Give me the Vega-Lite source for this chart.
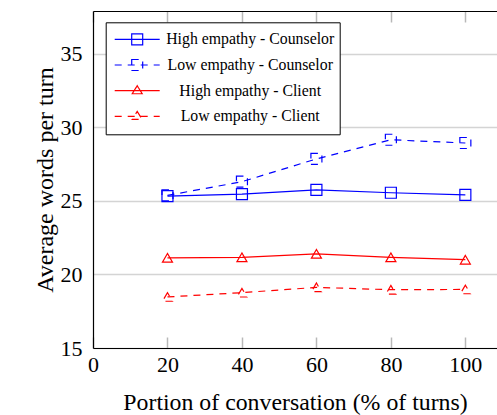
{
  "$schema": "https://vega.github.io/schema/vega-lite/v6.json",
  "width": 404,
  "height": 337,
  "autosize": {"type": "none"},
  "padding": {"left": 93, "top": 11, "right": 0, "bottom": 67},
  "background": "white",
  "config": {
    "view": {"stroke": null},
    "font": "Liberation Serif",
    "axis": {"labelFont": "Liberation Serif", "titleFont": "Liberation Serif", "titleFontWeight": "normal", "labelColor": "black", "titleColor": "black"},
    "legend": {"labelFont": "Liberation Serif"}
  },
  "data": {
    "values": [
      {"x": 20, "y": 25.32, "series": "High empathy - Counselor"},
      {"x": 40, "y": 25.46, "series": "High empathy - Counselor"},
      {"x": 60, "y": 25.75, "series": "High empathy - Counselor"},
      {"x": 80, "y": 25.55, "series": "High empathy - Counselor"},
      {"x": 100, "y": 25.41, "series": "High empathy - Counselor"},
      {"x": 20, "y": 25.37, "series": "Low empathy - Counselor"},
      {"x": 40, "y": 26.3, "series": "Low empathy - Counselor"},
      {"x": 60, "y": 27.85, "series": "Low empathy - Counselor"},
      {"x": 80, "y": 29.15, "series": "Low empathy - Counselor"},
      {"x": 100, "y": 28.93, "series": "Low empathy - Counselor"},
      {"x": 20, "y": 21.13, "series": "High empathy - Client"},
      {"x": 40, "y": 21.16, "series": "High empathy - Client"},
      {"x": 60, "y": 21.4, "series": "High empathy - Client"},
      {"x": 80, "y": 21.16, "series": "High empathy - Client"},
      {"x": 100, "y": 21.0, "series": "High empathy - Client"},
      {"x": 20, "y": 18.47, "series": "Low empathy - Client"},
      {"x": 40, "y": 18.76, "series": "Low empathy - Client"},
      {"x": 60, "y": 19.12, "series": "Low empathy - Client"},
      {"x": 80, "y": 18.96, "series": "Low empathy - Client"},
      {"x": 100, "y": 18.98, "series": "Low empathy - Client"}
    ]
  },
  "encoding": {
    "y": {"field": "y", "type": "quantitative", "scale": {"domain": [15, 37.9], "nice": false, "zero": false},
      "axis": {"values": [15, 20, 25, 30, 35], "grid": true, "gridColor": "#d4d4d4", "gridWidth": 1.4, "ticks": false, "domain": true, "domainColor": "black", "domainWidth": 1.2,
        "labelPadding": 11, "labelFontSize": 22, "title": "Average words per turn", "titleFontSize": 24, "titlePadding": 3}}
  },
  "resolve": {"axis": {"x": "independent"}},
  "layer": [
    {
      "transform": [{"filter": "datum.series === 'High empathy - Counselor'"}],
      "mark": {"type": "line", "strokeWidth": 1.2, "color": "#0000ff"},
      "encoding": {
        "x": {"field": "x", "type": "quantitative", "scale": {"domain": [0, 108.5], "nice": false, "zero": false},
          "axis": {"orient": "bottom", "values": [0, 20, 40, 60, 80, 100], "grid": false, "domain": true, "domainColor": "black", "domainWidth": 1.2,
            "tickSize": -11, "tickColor": "#b8b8b8", "tickWidth": 1.5, "labelPadding": 17.5, "labelFontSize": 22, "labelFlush": false,
            "title": "Portion of conversation (% of turns)", "titleFontSize": 23.8, "titlePadding": 15}}
      }
    },
    {
      "transform": [{"filter": "datum.series === 'Low empathy - Counselor'"}],
      "mark": {"type": "line", "strokeWidth": 1.2, "strokeDash": [7, 6], "color": "#0000ff"},
      "encoding": {"x": {"field": "x", "type": "quantitative", "axis": null}}
    },
    {
      "transform": [{"filter": "datum.series === 'High empathy - Client'"}],
      "mark": {"type": "line", "strokeWidth": 1.2, "color": "#ff0000"},
      "encoding": {"x": {"field": "x", "type": "quantitative", "axis": null}}
    },
    {
      "transform": [{"filter": "datum.series === 'Low empathy - Client'"}],
      "mark": {"type": "line", "strokeWidth": 1.2, "strokeDash": [7, 6], "color": "#ff0000"},
      "encoding": {"x": {"field": "x", "type": "quantitative", "axis": null}}
    },
    {
      "transform": [{"filter": "datum.series === 'High empathy - Counselor'"}],
      "mark": {"type": "point", "shape": "square", "size": 121, "filled": false, "strokeWidth": 1.2, "color": "#0000ff", "opacity": 1},
      "encoding": {"x": {"field": "x", "type": "quantitative", "axis": null}}
    },
    {
      "transform": [{"filter": "datum.series === 'Low empathy - Counselor'"}],
      "mark": {"type": "point", "shape": "square", "size": 121, "filled": false, "strokeWidth": 1.2, "strokeDash": [7, 6], "color": "#0000ff", "opacity": 1},
      "encoding": {"x": {"field": "x", "type": "quantitative", "axis": null}}
    },
    {
      "transform": [{"filter": "datum.series === 'High empathy - Client'"}],
      "mark": {"type": "point", "shape": "triangle-up", "size": 100, "filled": false, "strokeWidth": 1.2, "color": "#ff0000", "opacity": 1},
      "encoding": {"x": {"field": "x", "type": "quantitative", "axis": null}}
    },
    {
      "transform": [{"filter": "datum.series === 'Low empathy - Client'"}],
      "mark": {"type": "point", "shape": "triangle-up", "size": 100, "filled": false, "strokeWidth": 1.2, "strokeDash": [7, 6], "color": "#ff0000", "opacity": 1},
      "encoding": {"x": {"field": "x", "type": "quantitative", "axis": null}}
    },
    {
      "transform": [{"filter": "datum.x < 0"}],
      "mark": {"type": "point", "filled": false, "opacity": 1},
      "encoding": {
        "x": {"field": "x", "type": "quantitative",
          "axis": {"orient": "top", "values": [0, 20, 40, 60, 80, 100], "labels": false, "title": null, "grid": false, "domain": true, "domainColor": "black", "domainWidth": 1.2, "tickSize": -11, "tickColor": "#b8b8b8", "tickWidth": 1.5}},
        "color": {"field": "series", "type": "nominal",
          "scale": {"domain": ["High empathy - Counselor", "Low empathy - Counselor", "High empathy - Client", "Low empathy - Client"], "range": ["#0000ff", "#0000ff", "#ff0000", "#ff0000"]},
          "legend": {"title": null, "orient": "none", "legendX": 12.7, "legendY": 11.3, "fillColor": "white", "strokeColor": "black", "padding": 5,
            "symbolSize": 2025, "symbolStrokeWidth": 1.2, "clipHeight": 24, "rowPadding": 1.7, "symbolOffset": 3, "labelOffset": 89.5, "labelAlign": "center", "labelFontSize": 15.8, "labelColor": "black", "labelLimit": 400}},
        "shape": {"field": "series", "type": "nominal",
          "scale": {"domain": ["High empathy - Counselor", "Low empathy - Counselor", "High empathy - Client", "Low empathy - Client"],
            "range": ["M-1,0L1,0M-0.244,-0.244L0.244,-0.244L0.244,0.244L-0.244,0.244Z", "M-1,0L1,0M-0.244,-0.244L0.244,-0.244L0.244,0.244L-0.244,0.244Z", "M-1,0L1,0M0,-0.22L0.222,0.136L-0.222,0.136Z", "M-1,0L1,0M0,-0.22L0.222,0.136L-0.222,0.136Z"]},
          "legend": {"title": null, "orient": "none", "legendX": 12.7, "legendY": 11.3, "fillColor": "white", "strokeColor": "black", "padding": 5,
            "symbolSize": 2025, "symbolStrokeWidth": 1.2, "clipHeight": 24, "rowPadding": 1.7, "symbolOffset": 3, "labelOffset": 89.5, "labelAlign": "center", "labelFontSize": 15.8, "labelColor": "black", "labelLimit": 400}},
        "strokeDash": {"field": "series", "type": "nominal",
          "scale": {"domain": ["High empathy - Counselor", "Low empathy - Counselor", "High empathy - Client", "Low empathy - Client"], "range": [[1, 0], [7, 6], [1, 0], [7, 6]]},
          "legend": {"title": null, "orient": "none", "legendX": 12.7, "legendY": 11.3, "fillColor": "white", "strokeColor": "black", "padding": 5,
            "symbolSize": 2025, "symbolStrokeWidth": 1.2, "clipHeight": 24, "rowPadding": 1.7, "symbolOffset": 3, "labelOffset": 89.5, "labelAlign": "center", "labelFontSize": 15.8, "labelColor": "black", "labelLimit": 400}}
      }
    }
  ]
}
